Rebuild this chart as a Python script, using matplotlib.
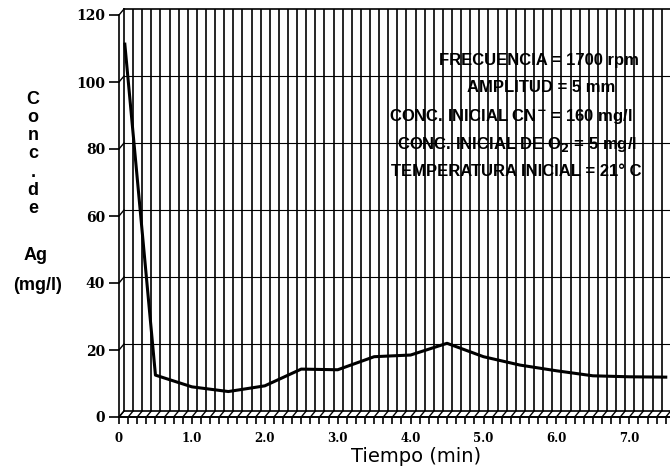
import numpy as np
import matplotlib
matplotlib.use("Agg")
import matplotlib.pyplot as plt

# Concentracion de Ag vs tiempo
TIEMPO = [0.08, 0.5, 1.0, 1.5, 2.0, 2.5, 3.0, 3.5, 4.0, 4.5, 5.0, 5.5, 6.0, 6.5, 7.0, 7.5]
CONC_AG = [111.3, 12.5, 9.0, 7.6, 9.3, 14.3, 14.1, 18.0, 18.5, 22.0, 18.0, 15.5, 13.8, 12.3, 12.0, 11.9]

Y_TICKS = [0, 20, 40, 60, 80, 100, 120]
X_TICKS = [0, 1, 2, 3, 4, 5, 6, 7]
X_LABELS = ['0', '1.0', '2.0', '3.0', '4.0', '5.0', '6.0', '7.0']

CONDICIONES = [
    'FRECUENCIA = 1700 rpm',
    'AMPLITUD = 5 mm',
    r'CONC. INICIAL CN$^{\mathbf{-}}$ = 160 mg/l',
    r'CONC. INICIAL DE O$_\mathbf{2}$ = 5 mg/l',
    'TEMPERATURA INICIAL = 21° C',
]

W, H = 670, 470
PX_X = 72.9   # pixels per minute
PX_Y = 3.35   # pixels per mg/l
DX_PX, DY_PX = 5, 6  # depth offset of the back wall

fig = plt.figure(figsize=(6.7, 4.7), dpi=100)

x0, y0 = 119, 417  # front origin in pixels (from top)
aw, ah = W - x0, y0 - 15
xmax = aw / PX_X
ymax = 120

# back wall with the grid
bk = fig.add_axes([(x0 + DX_PX) / W, (H - y0 + DY_PX) / H, aw / W, ah / H])
bk.set_xlim(0, xmax)
bk.set_ylim(0, ymax)
bk.set_xticks(np.arange(0.125, xmax, 0.125))
bk.set_yticks(Y_TICKS[1:-1])
bk.tick_params(length=0, labelbottom=False, labelleft=False)
bk.grid(axis='x', color='black', linewidth=1.2)
bk.grid(axis='y', color='black', linewidth=0.8)
bk.spines['right'].set_visible(False)
for s in ['top', 'left', 'bottom']:
    bk.spines[s].set_linewidth(1.2)
bk.set_zorder(0)

# front axes carrying ticks and data
ax = fig.add_axes([x0 / W, (H - y0) / H, aw / W, ah / H])
ax.patch.set_visible(False)
ax.set_zorder(2)
ax.set_xlim(0, xmax)
ax.set_ylim(0, ymax)
ax.spines['top'].set_visible(False)
ax.spines['right'].set_visible(False)
ax.spines['left'].set_linewidth(1.2)
ax.spines['bottom'].set_linewidth(1.4)

ax.set_yticks(Y_TICKS)
ax.set_yticklabels([str(v) for v in Y_TICKS], fontfamily='DejaVu Serif',
                   fontweight='bold', fontsize=10)
ax.set_xticks(X_TICKS)
ax.set_xticklabels(X_LABELS, fontfamily='DejaVu Serif', fontweight='bold', fontsize=8.5)
ax.set_xticks(np.arange(0.125, xmax, 0.125), minor=True)
ax.tick_params(axis='y', direction='out', length=7, width=1.2, pad=3)
ax.tick_params(axis='x', which='both', direction='out', length=5, width=1.2, pad=6)

# 3D connectors: floor slashes and left-wall stubs
dx = DX_PX / PX_X
dy = DY_PX / PX_Y
for xv in np.arange(0, xmax, 0.125):
    ax.plot([xv, xv + dx], [0, dy], color='black', linewidth=1.0, clip_on=False)
for yv in Y_TICKS:
    ax.plot([0, dx], [yv, yv + dy], color='black', linewidth=1.0, clip_on=False)

# data line
ax.plot(TIEMPO, CONC_AG, color='black', linewidth=2.2, solid_joinstyle='round',
        clip_on=False, zorder=5)

# text block with conditions
tx = [539, 541, 511, 517, 516]
ty = [61, 88, 116, 144, 172]
for t, xp, yp in zip(CONDICIONES, tx, ty):
    fig.text(xp / W, 1 - yp / H, t, ha='center', va='center', fontsize=12,
             fontweight='bold', fontfamily='Liberation Sans', color='black')

# axis labels
fig.text(416 / W, 1 - 457 / H, 'Tiempo (min)', ha='center', va='center',
         fontsize=14, fontfamily='DejaVu Sans')
fig.text(33 / W, 1 - 154 / H, 'C\no\nn\nc\n.\nd\ne', ha='center', va='center',
         fontsize=13, fontweight='bold', fontfamily='Liberation Sans', linespacing=1.1)
fig.text(36 / W, 1 - 256 / H, 'Ag', ha='center', va='center',
         fontsize=13, fontweight='bold', fontfamily='Liberation Sans')
fig.text(38 / W, 1 - 286 / H, '(mg/l)', ha='center', va='center',
         fontsize=13, fontweight='bold', fontfamily='Liberation Sans')

fig.savefig('out.png', dpi=100)
